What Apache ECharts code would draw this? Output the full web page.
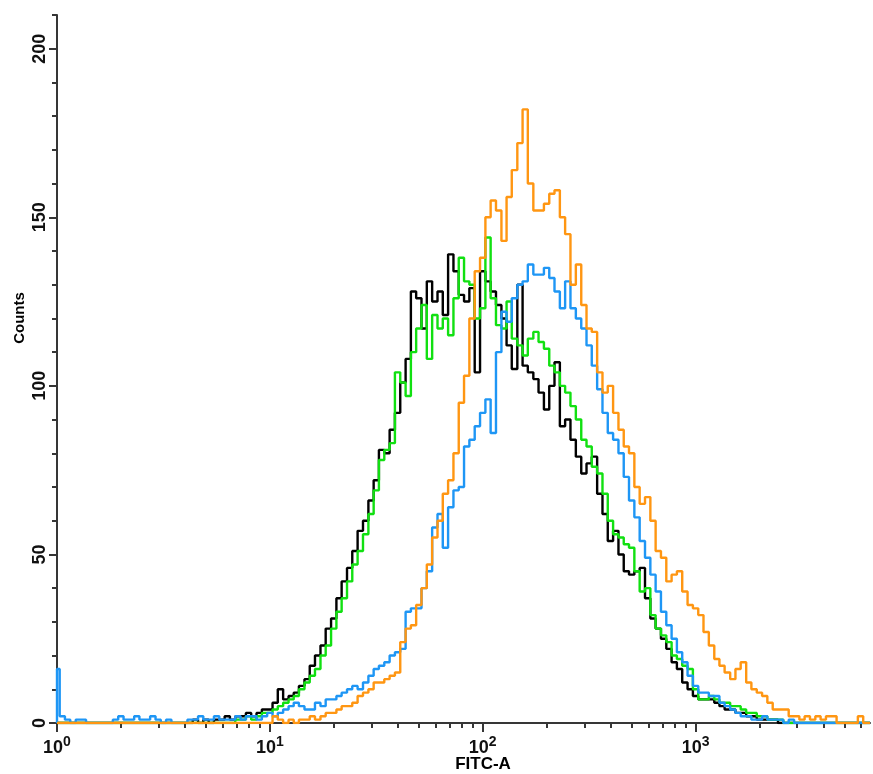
<!DOCTYPE html>
<html><head><meta charset="utf-8">
<script src="https://cdn.jsdelivr.net/npm/echarts@6/dist/echarts.min.js"></script>
<style>html,body{margin:0;padding:0;background:#fff}#c{width:873px;height:774px}</style>
</head><body><div id="c"></div>
<script>
// FITC-A channel positions (bin centres)
const fitc = [
 1, 1.06, 1.12, 1.19, 1.26, 1.33, 1.41, 1.50, 1.58, 1.68, 1.78, 1.88, 2.00, 2.11, 2.24, 2.37, 2.51, 2.66, 2.82, 2.99,
 3.16, 3.35, 3.55, 3.76, 3.98, 4.22, 4.47, 4.73, 5.01, 5.31, 5.62, 5.96, 6.31, 6.68, 7.08, 7.50, 7.94, 8.41, 8.91, 9.44,
 10, 10.6, 11.2, 11.9, 12.6, 13.3, 14.1, 15.0, 15.8, 16.8, 17.8, 18.8, 20.0, 21.1, 22.4, 23.7, 25.1, 26.6, 28.2, 29.9,
 31.6, 33.5, 35.5, 37.6, 39.8, 42.2, 44.7, 47.3, 50.1, 53.1, 56.2, 59.6, 63.1, 66.8, 70.8, 75.0, 79.4, 84.1, 89.1, 94.4,
 100, 106, 112, 119, 126, 133, 141, 150, 158, 168, 178, 188, 200, 211, 224, 237, 251, 266, 282, 299,
 316, 335, 355, 376, 398, 422, 447, 473, 501, 531, 562, 596, 631, 668, 708, 750, 794, 841, 891, 944,
 1000, 1060, 1120, 1190, 1260, 1330, 1410, 1500, 1580, 1680, 1780, 1880, 2000, 2110, 2240, 2370, 2510, 2660, 2820, 2990,
 3160, 3350, 3550, 3760, 3980, 4220, 4470, 4730, 5010, 5310, 5620, 5960, 6310, 6600
];
const blackCounts = [
 0,0,0,0,0,0,0,0,0,0, 0,0,0,0,0,0,0,0,0,0,
 0,0,0,0,0,0,1,0,1,0, 1,1,2,1,2,2,3,2,3,4,
 4,6,10,7,8,9,11,13,17,20, 23,28,31,37,42,46,51,57,60,66,
 72,81,80,87,92,101,108,128,126,117, 131,125,128,121,139,134,127,125,129,104,
 134,131,128,124,120,112,105,130,106,104, 102,98,93,100,107,88,90,84,79,74,
 77,79,68,62,54,57,50,45,44,45, 46,37,31,28,25,22,18,16,12,10,
 8,7,7,7,6,5,4,4,3,3, 2,2,1,1,1,1,0,0,0,0,
 0,0,0,0,0,0,0,0,0,0, 0,0,0,0
];
const greenCounts = [
 0,0,0,0,0,0,0,0,0,0, 0,0,0,0,0,0,0,0,0,0,
 0,0,0,0,0,0,0,0,0,0, 0,0,0,0,1,1,2,1,2,3,
 3,4,5,6,7,8,10,12,14,16, 20,23,28,33,37,42,47,51,56,62,
 69,78,81,83,104,101,97,110,117,124, 108,121,117,120,115,126,138,131,130,120,
 123,144,126,118,117,125,114,112,109,114, 116,113,111,106,104,100,98,94,90,84,
 82,76,74,68,60,56,55,53,52,45, 39,40,32,28,26,24,20,19,17,16,
 10,7,7,8,7,6,6,5,5,4, 3,3,2,2,1,1,1,0,0,0,
 0,0,0,0,0,0,0,0,0,0, 0,0,0,0
];
const blueCounts = [
 16,2,1,0,1,1,0,0,0,0, 0,1,2,1,1,2,1,1,2,1,
 0,1,0,0,0,1,1,2,1,1, 2,1,1,1,2,1,2,2,1,2,
 3,2,3,4,5,6,5,4,4,6, 5,7,7,8,9,10,11,10,12,14,
 16,17,18,20,21,22,33,34,34,40, 45,58,62,52,64,69,70,82,84,88,
 92,96,86,110,122,119,126,130,131,136, 133,133,135,132,128,123,131,123,120,117,
 112,106,99,92,86,84,80,73,66,61, 54,49,44,39,33,29,25,21,18,14,
 11,9,9,8,8,6,5,4,3,2, 2,1,1,2,1,1,1,0,1,0,
 0,0,0,0,0,0,0,0,0,0, 0,0,0,0
];
const orangeCounts = [
 0,0,0,0,0,0,0,0,0,0, 0,0,0,0,0,0,0,0,0,0,
 0,0,0,0,0,0,0,0,0,0, 0,0,0,0,0,0,0,0,0,0,
 0,2,1,0,1,0,1,1,2,1, 2,3,3,4,5,5,6,8,9,10,
 12,12,13,14,15,24,28,29,35,40, 47,55,60,68,72,80,95,103,120,134,
 138,150,155,152,143,156,164,172,182,160, 152,152,154,157,158,150,145,130,136,124,
 117,116,104,98,100,92,87,82,80,70, 65,67,60,51,49,42,44,45,39,35,
 34,32,27,23,19,17,15,13,16,18, 12,10,9,8,6,4,4,4,2,2,
 1,2,1,2,1,2,2,0,0,0, 0,2,0,0
];
const xMajorTicks = [1, 10, 100, 1000];
const xTickExp = ['0', '1', '2', '3'];
const xMinorTicks = [2,3,4,5,6,7,8,9, 20,30,40,50,60,70,80,90, 200,300,400,500,600,700,800,900, 2000,3000,4000,5000,6000];
const yMajorTicks = [0, 50, 100, 150, 200];
const yMinorTicks = [10,20,30,40, 60,70,80,90, 110,120,130,140, 160,170,180,190, 210];
const xMin = 1, xMax = 6600, yMin = 0, yMax = 210;

function pairs(ys) { return fitc.map((x, i) => [x, ys[i]]); }

const FONT = '"Liberation Sans", Arial, sans-serif';
const AX = '#363636';

const chart = echarts.init(document.getElementById('c'));
chart.setOption({
  animation: false,
  backgroundColor: '#fff',
  grid: { left: 57, right: 3, top: 15, bottom: 51 },
  xAxis: [
    {
      type: 'log', logBase: 10, min: xMin, max: xMax, position: 'bottom',
      axisLine: { show: true, lineStyle: { color: AX, width: 2 } },
      axisTick: { show: true, length: 9, lineStyle: { color: AX, width: 2 }, customValues: xMajorTicks },
      axisLabel: {
        customValues: xMajorTicks, margin: 12,
        formatter: function (v) {
          const k = Math.round(Math.log10(v));
          const idx = xMajorTicks.indexOf(Math.pow(10, k));
          if (idx < 0 || Math.abs(v - Math.pow(10, k)) > 1e-6 * v) return '';
          return '{b|10}{s|' + xTickExp[idx] + '}';
        },
        rich: {
          b: { fontSize: 18, fontWeight: 'bold', fontFamily: FONT, color: '#111', lineHeight: 22, verticalAlign: 'bottom' },
          s: { fontSize: 14, fontWeight: 'bold', fontFamily: FONT, color: '#111', verticalAlign: 'top' }
        }
      },
      splitLine: { show: false }
    },
    {
      type: 'log', logBase: 10, min: xMin, max: xMax, position: 'bottom', gridIndex: 0,
      axisLine: { show: false },
      axisTick: { show: true, length: 5, lineStyle: { color: AX, width: 2 }, customValues: xMinorTicks },
      axisLabel: { show: false },
      splitLine: { show: false }
    }
  ],
  yAxis: [
    {
      type: 'value', min: yMin, max: yMax, interval: 50, position: 'left',
      axisLine: { show: true, lineStyle: { color: AX, width: 2 } },
      axisTick: { show: true, length: 8, lineStyle: { color: AX, width: 2 }, customValues: yMajorTicks },
      axisLabel: {
        customValues: yMajorTicks, rotate: 90, margin: 8,
        fontSize: 18, fontWeight: 'bold', fontFamily: FONT, color: '#111',
        formatter: function (v) { return yMajorTicks.indexOf(v) >= 0 ? String(v) : ''; }
      },
      splitLine: { show: false }
    },
    {
      type: 'value', min: yMin, max: yMax, interval: 10, position: 'left',
      axisLine: { show: false },
      axisTick: { show: true, length: 5, lineStyle: { color: AX, width: 2 }, customValues: yMinorTicks },
      axisLabel: { show: false },
      splitLine: { show: false }
    }
  ],
  graphic: [
    { type: 'text', x: 20, y: 318, rotation: Math.PI / 2,
      style: { text: 'Counts', font: 'bold 15px ' + FONT, fill: '#000', align: 'center', verticalAlign: 'middle' } },
    { type: 'text', x: 483, y: 764,
      style: { text: 'FITC-A', font: 'bold 17px ' + FONT, fill: '#000', align: 'center', verticalAlign: 'middle' } }
  ],
  series: [
    { name: 'black', type: 'line', step: 'middle', showSymbol: false, data: pairs(blackCounts),
      lineStyle: { color: '#000', width: 2.4 }, itemStyle: { color: '#000' } },
    { name: 'green', type: 'line', step: 'middle', showSymbol: false, data: pairs(greenCounts),
      lineStyle: { color: '#11e011', width: 2.4 }, itemStyle: { color: '#11e011' } },
    { name: 'blue', type: 'line', step: 'middle', showSymbol: false, data: [[fitc[0], 0]].concat(pairs(blueCounts)),
      lineStyle: { color: '#1e96f5', width: 2.4 }, itemStyle: { color: '#1e96f5' } },
    { name: 'orange', type: 'line', step: 'middle', showSymbol: false, data: pairs(orangeCounts),
      lineStyle: { color: '#ff9612', width: 2.4 }, itemStyle: { color: '#ff9612' } }
  ]
});
</script>
</body></html>
